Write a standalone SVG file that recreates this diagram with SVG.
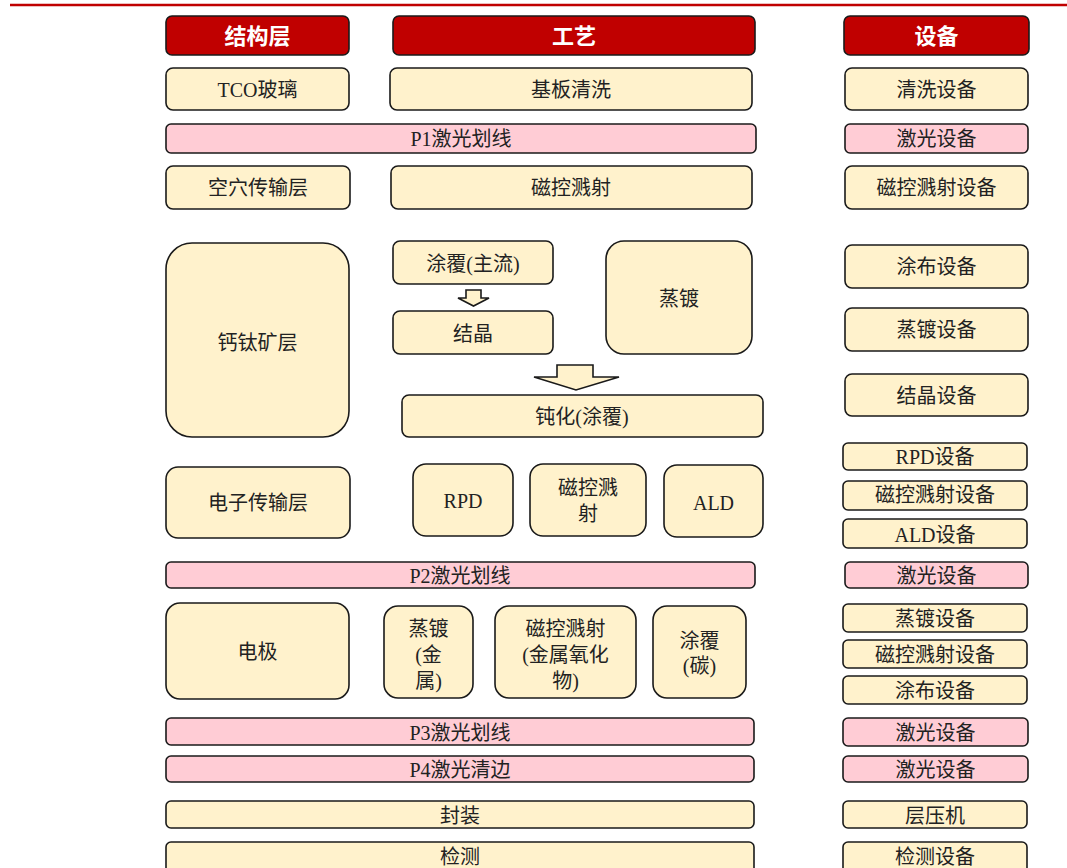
<svg xmlns="http://www.w3.org/2000/svg" width="1067" height="868" viewBox="0 0 1067 868">
<style>
.hd rect{fill:#C00000;stroke:#1a1a1a;stroke-width:1.6}
.hd text{fill:#fff;font-size:22px;font-weight:bold}
.n rect{fill:#FFF2CC;stroke:#1a1a1a;stroke-width:1.6}
.p rect{fill:#FFCCD5;stroke:#1a1a1a;stroke-width:1.6}
text{font-family:"Liberation Serif","Noto Sans CJK SC",serif;font-size:20px;fill:#222;text-anchor:middle;dominant-baseline:central}
.arr{fill:#FFF2CC;stroke:#1a1a1a;stroke-width:1.6;stroke-linejoin:miter}
</style>
<rect width="1067" height="868" fill="#fff"/>
<line x1="10" y1="5" x2="1067" y2="5" stroke="#C00000" stroke-width="2.5"/>

<g id="h1" class="hd"><rect x="166" y="16" width="183" height="39" rx="6"/><text x="257.5" y="36">结构层</text></g>
<g id="h2" class="hd"><rect x="393" y="16" width="362" height="39" rx="6"/><text x="574" y="36">工艺</text></g>
<g id="h3" class="hd"><rect x="844" y="16" width="185" height="39" rx="6"/><text x="936.5" y="36">设备</text></g>

<g id="tco" class="n"><rect x="166" y="68" width="183" height="42" rx="7"/><text x="257.5" y="90">TCO玻璃</text></g>
<g id="clean" class="n"><rect x="390" y="68" width="362" height="42" rx="7"/><text x="571" y="90">基板清洗</text></g>
<g id="clean-eq" class="n"><rect x="845" y="68" width="183" height="42" rx="7"/><text x="936.5" y="90">清洗设备</text></g>

<g id="p1" class="p"><rect x="166" y="124" width="590" height="29" rx="5"/><text x="461" y="139">P1激光划线</text></g>
<g id="p1-eq" class="p"><rect x="845" y="124" width="183" height="29" rx="5"/><text x="936.5" y="139">激光设备</text></g>

<g id="htl" class="n"><rect x="166" y="166" width="184" height="43" rx="7"/><text x="258" y="188">空穴传输层</text></g>
<g id="sputter1" class="n"><rect x="391" y="166" width="361" height="43" rx="7"/><text x="571" y="188">磁控溅射</text></g>
<g id="sputter1-eq" class="n"><rect x="845" y="166" width="183" height="43" rx="7"/><text x="936.5" y="188">磁控溅射设备</text></g>

<g id="perov" class="n"><rect x="166" y="243" width="183" height="194" rx="26"/><text x="257.5" y="343">钙钛矿层</text></g>
<g id="coat-main" class="n"><rect x="393" y="241" width="160" height="43" rx="7"/><text x="473" y="264">涂覆(主流)</text></g>
<g id="cryst" class="n"><rect x="393" y="311" width="160" height="43" rx="7"/><text x="473" y="334">结晶</text></g>
<g id="evap1" class="n"><rect x="606" y="241" width="146" height="113" rx="18"/><text x="679" y="299">蒸镀</text></g>
<g id="passiv" class="n"><rect x="402" y="395" width="361" height="42" rx="7"/><text x="582" y="417">钝化(涂覆)</text></g>
<g id="coat-eq" class="n"><rect x="845" y="245" width="183" height="43" rx="7"/><text x="936.5" y="267">涂布设备</text></g>
<g id="evap-eq" class="n"><rect x="845" y="308" width="183" height="43" rx="7"/><text x="936.5" y="330">蒸镀设备</text></g>
<g id="cryst-eq" class="n"><rect x="845" y="374" width="183" height="42" rx="7"/><text x="936.5" y="396">结晶设备</text></g>

<g id="etl" class="n"><rect x="166" y="467" width="184" height="71" rx="12"/><text x="258" y="503">电子传输层</text></g>
<g id="rpd" class="n"><rect x="413" y="464" width="100" height="72" rx="13"/><text x="463" y="501">RPD</text></g>
<g id="sputter2" class="n"><rect x="530" y="464" width="116" height="72" rx="13"/><text x="588" y="488">磁控溅</text><text x="588" y="514">射</text></g>
<g id="ald" class="n"><rect x="664" y="465" width="99" height="72" rx="13"/><text x="713.5" y="503">ALD</text></g>
<g id="rpd-eq" class="n"><rect x="843" y="443" width="184" height="27" rx="5"/><text x="935" y="457">RPD设备</text></g>
<g id="sputter2-eq" class="n"><rect x="843" y="481" width="184" height="29" rx="5"/><text x="935" y="495">磁控溅射设备</text></g>
<g id="ald-eq" class="n"><rect x="843" y="519" width="184" height="29" rx="5"/><text x="935" y="535">ALD设备</text></g>

<g id="p2" class="p"><rect x="166" y="562" width="589" height="26" rx="5"/><text x="460" y="576">P2激光划线</text></g>
<g id="p2-eq" class="p"><rect x="845" y="562" width="183" height="26" rx="5"/><text x="936.5" y="576">激光设备</text></g>

<g id="elec" class="n"><rect x="166" y="603" width="183" height="96" rx="14"/><text x="257.5" y="652">电极</text></g>
<g id="evap2" class="n"><rect x="384" y="606" width="89" height="92" rx="14"/><text x="428.5" y="629">蒸镀</text><text x="428.5" y="655">(金</text><text x="428.5" y="681">属)</text></g>
<g id="sputter3" class="n"><rect x="495" y="606" width="141" height="92" rx="14"/><text x="565.5" y="629">磁控溅射</text><text x="565.5" y="655">(金属氧化</text><text x="565.5" y="681">物)</text></g>
<g id="coat-c" class="n"><rect x="653" y="606" width="93" height="92" rx="14"/><text x="699.5" y="641">涂覆</text><text x="699.5" y="666">(碳)</text></g>
<g id="evap2-eq" class="n"><rect x="843" y="604" width="184" height="28" rx="5"/><text x="935" y="619">蒸镀设备</text></g>
<g id="sputter3-eq" class="n"><rect x="843" y="640" width="184" height="28" rx="5"/><text x="935" y="655">磁控溅射设备</text></g>
<g id="coat2-eq" class="n"><rect x="843" y="676" width="184" height="28" rx="5"/><text x="935" y="691">涂布设备</text></g>

<g id="p3" class="p"><rect x="166" y="718" width="588" height="27" rx="5"/><text x="460" y="733">P3激光划线</text></g>
<g id="p3-eq" class="p"><rect x="843" y="718" width="185" height="28" rx="5"/><text x="935.5" y="733">激光设备</text></g>
<g id="p4" class="p"><rect x="166" y="756" width="588" height="26" rx="5"/><text x="460" y="770">P4激光清边</text></g>
<g id="p4-eq" class="p"><rect x="843" y="756" width="185" height="26" rx="5"/><text x="935.5" y="770">激光设备</text></g>

<g id="pack" class="n"><rect x="166" y="801" width="588" height="27" rx="5"/><text x="460" y="816">封装</text></g>
<g id="pack-eq" class="n"><rect x="843" y="801" width="184" height="27" rx="5"/><text x="935" y="816">层压机</text></g>
<g id="test" class="n"><rect x="166" y="842" width="588" height="32" rx="5"/><text x="460" y="857">检测</text></g>
<g id="test-eq" class="n"><rect x="843" y="842" width="184" height="32" rx="5"/><text x="935" y="857">检测设备</text></g>

<g id="connectors">
<polygon class="arr" points="466,290 481,290 481,298 489,298 473.5,306 458,298 466,298"/>
<polygon class="arr" points="557,365 593,365 593,377 619,377 576,390 534,377 557,377"/>
</g>
</svg>
